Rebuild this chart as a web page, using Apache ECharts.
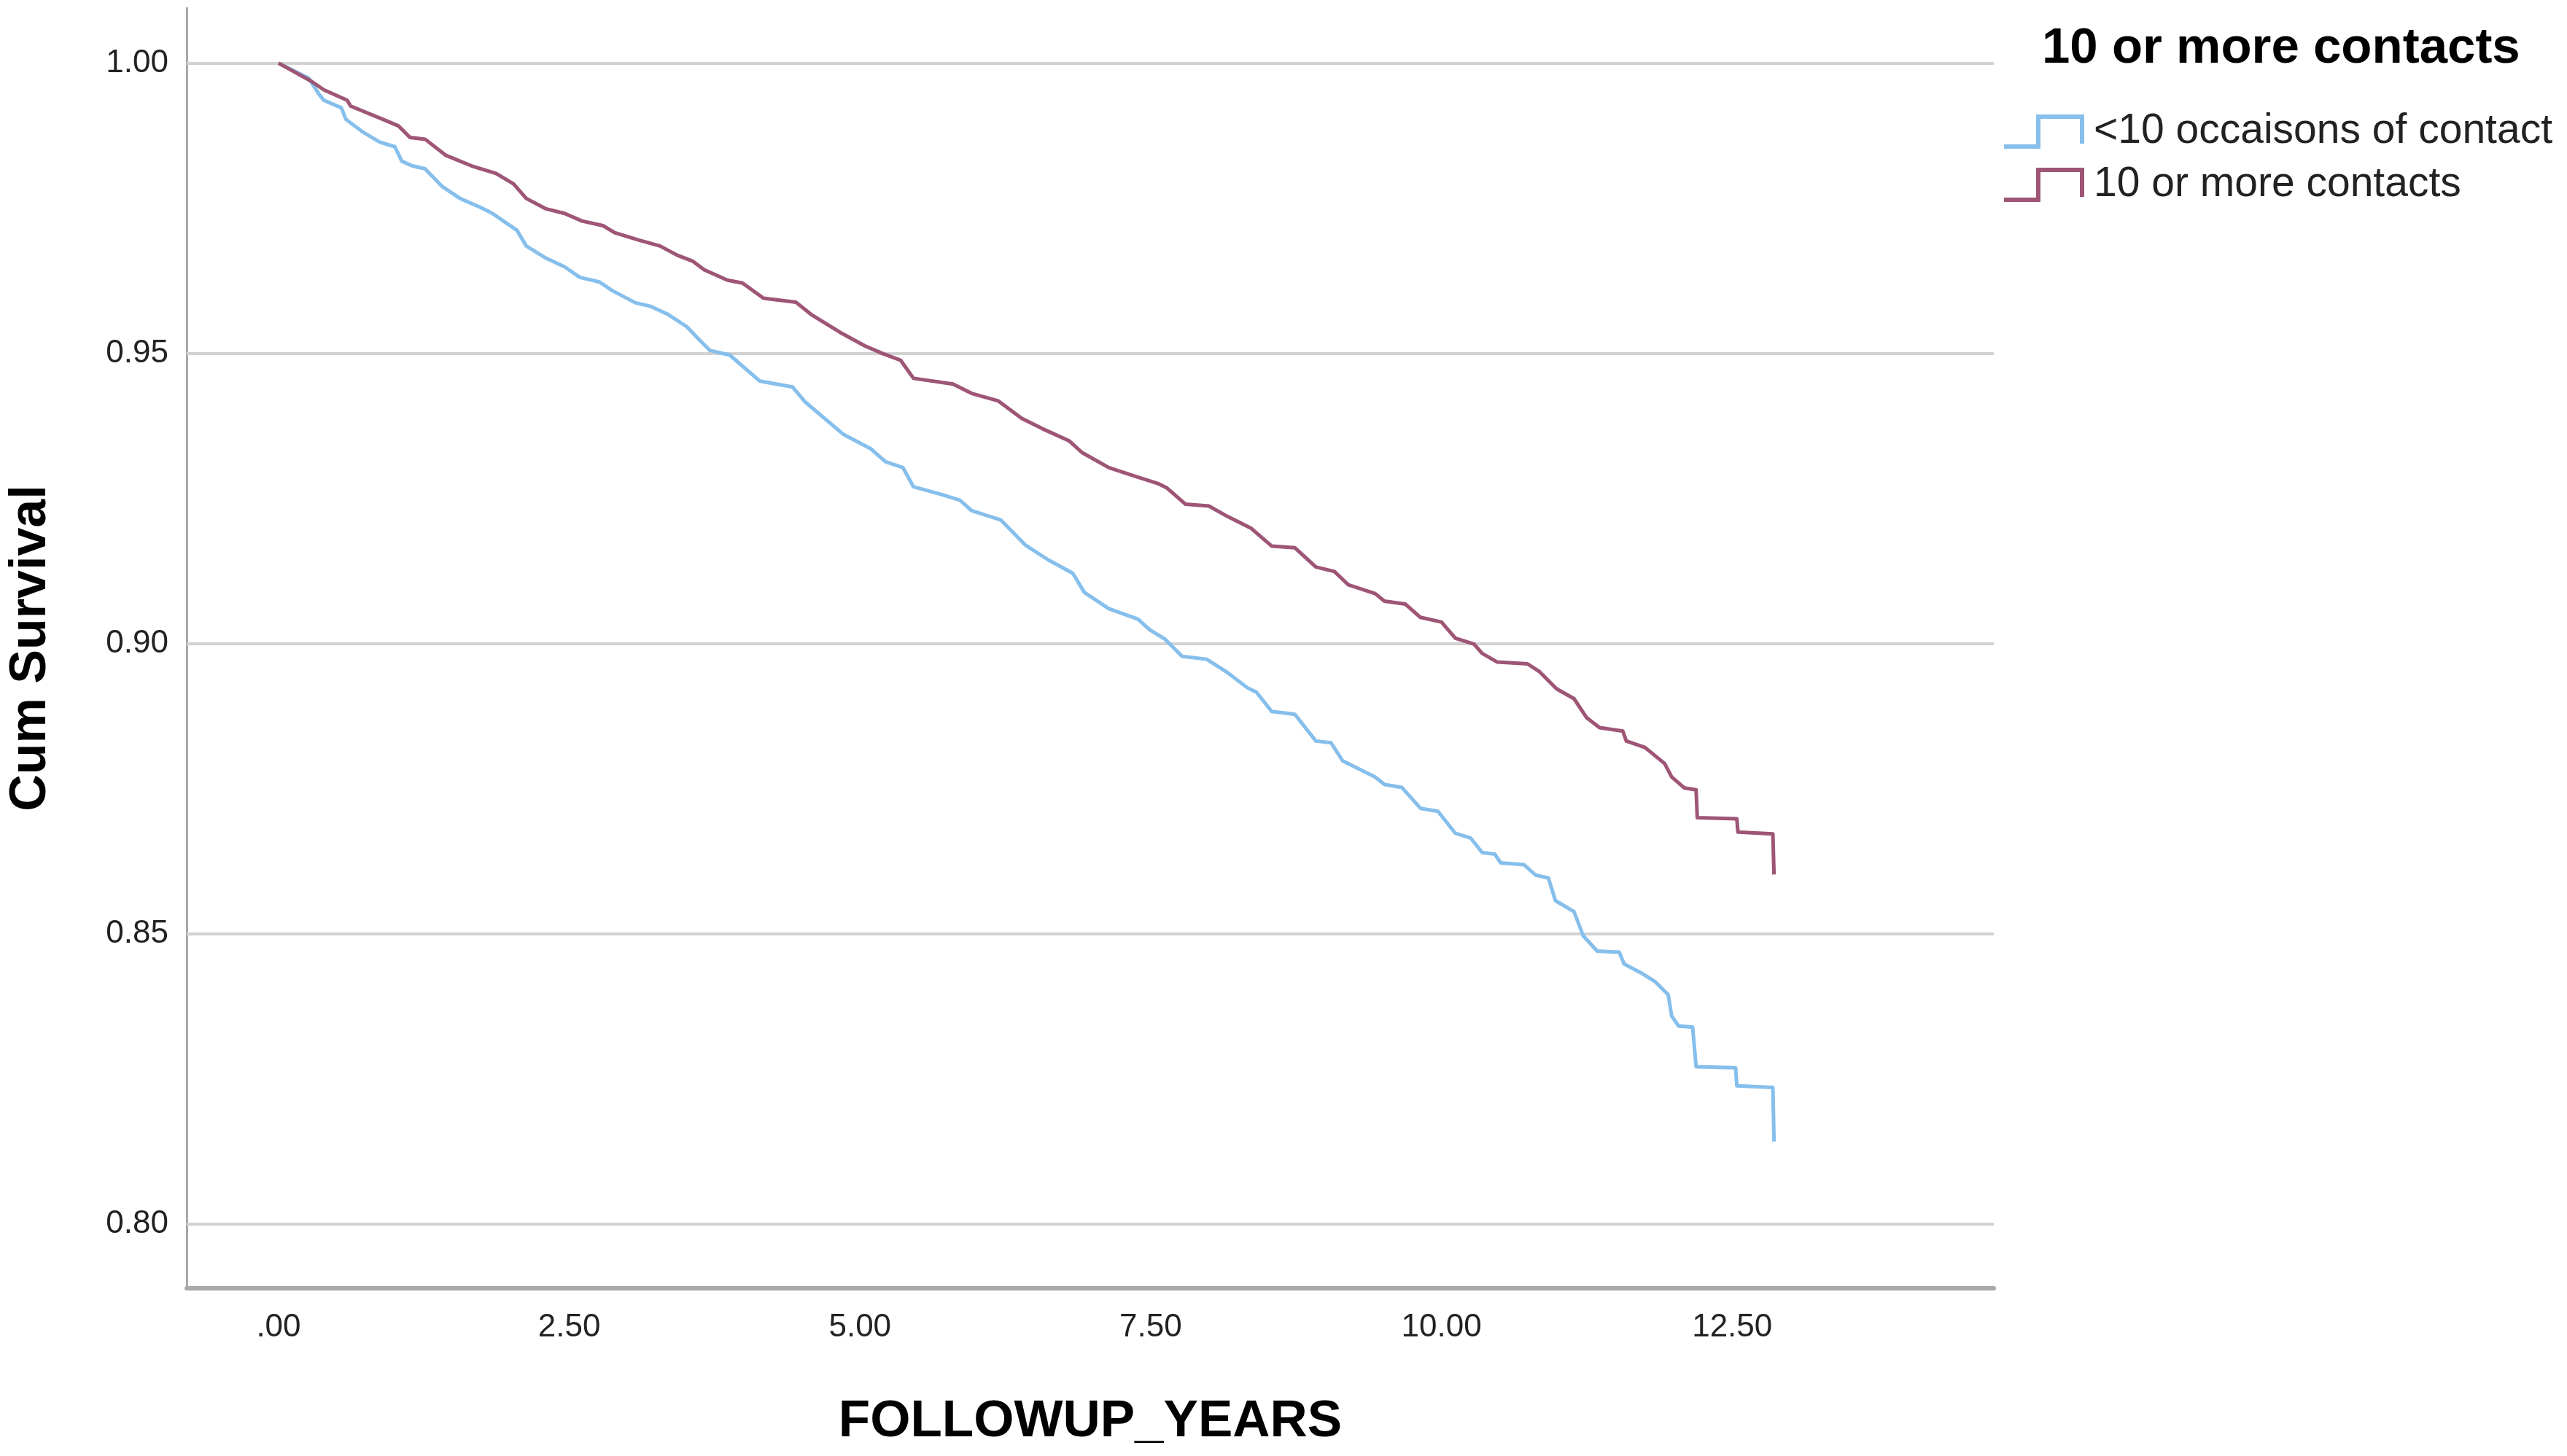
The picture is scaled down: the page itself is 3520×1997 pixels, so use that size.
<!DOCTYPE html>
<html>
<head>
<meta charset="utf-8">
<title>Cum Survival</title>
<script src="https://cdn.jsdelivr.net/npm/echarts@6/dist/echarts.min.js"></script>
<style>
  html, body { margin: 0; padding: 0; background: #fff; }
  #chart { width: 3520px; height: 1997px; }
</style>
</head>
<body>
<div id="chart"></div>
<script>
// series names
var groupNames = ['<10 occaisons of contact', '10 or more contacts'];

// <10 occasions: follow-up years and cumulative survival (corners of the curve)
var lowTimes = [0, 0.26, 0.35, 0.39, 0.54, 0.58, 0.72, 0.87, 1.00, 1.06, 1.15, 1.26, 1.41, 1.56, 1.74, 1.84,
  1.97, 2.05, 2.13, 2.30, 2.46, 2.59, 2.76, 2.87, 3.07, 3.20, 3.35, 3.51, 3.61, 3.71, 3.88, 4.14, 4.42,
  4.53, 4.86, 5.09, 5.22, 5.37, 5.46, 5.70, 5.86, 5.96, 6.21, 6.42, 6.62, 6.83, 6.93, 7.14, 7.39, 7.49,
  7.62, 7.77, 7.98, 8.16, 8.33, 8.41, 8.54, 8.74, 8.92, 9.05, 9.15, 9.43, 9.51, 9.66, 9.82, 9.97, 10.12,
  10.25, 10.35, 10.46, 10.51, 10.71, 10.81, 10.92, 10.98, 11.14, 11.22, 11.34, 11.53, 11.57, 11.73,
  11.84, 11.95, 11.98, 12.04, 12.16, 12.19, 12.53, 12.54, 12.85, 12.86];
var lowSurv = [1.0, 0.9974, 0.9946, 0.9936, 0.9923, 0.9903, 0.9882, 0.9864, 0.9856, 0.9831, 0.9823, 0.9818,
  0.9787, 0.9767, 0.9751, 0.9741, 0.9723, 0.9712, 0.9685, 0.9664, 0.9649, 0.9631, 0.9623, 0.9608, 0.9587,
  0.9581, 0.9567, 0.9546, 0.9525, 0.9505, 0.9497, 0.9452, 0.9442, 0.9416, 0.9360, 0.9336, 0.9313, 0.9303,
  0.9270, 0.9257, 0.9247, 0.9229, 0.9213, 0.9170, 0.9144, 0.9121, 0.9088, 0.9060, 0.9042, 0.9024, 0.9008,
  0.8978, 0.8973, 0.8950, 0.8924, 0.8916, 0.8883, 0.8878, 0.8832, 0.8829, 0.8798, 0.8770, 0.8757, 0.8752,
  0.8716, 0.8711, 0.8673, 0.8665, 0.8640, 0.8637, 0.8622, 0.8619, 0.8601, 0.8596, 0.8557, 0.8538, 0.8496,
  0.8470, 0.8468, 0.8448, 0.8431, 0.8417, 0.8395, 0.8358, 0.8341, 0.8339, 0.8271, 0.8269, 0.8238, 0.8235,
  0.8142];

// 10 or more contacts
var highTimes = [0, 0.28, 0.39, 0.59, 0.62, 0.90, 1.03, 1.13, 1.26, 1.44, 1.66, 1.87, 2.02, 2.13, 2.30, 2.46,
  2.61, 2.79, 2.89, 3.10, 3.28, 3.43, 3.56, 3.66, 3.86, 3.99, 4.17, 4.45, 4.58, 4.83, 5.04, 5.19, 5.35,
  5.46, 5.80, 5.96, 6.19, 6.39, 6.57, 6.80, 6.91, 7.14, 7.34, 7.57, 7.64, 7.80, 8.00, 8.16, 8.36, 8.54,
  8.74, 8.92, 9.08, 9.20, 9.43, 9.51, 9.69, 9.82, 10.00, 10.12, 10.28, 10.35, 10.48, 10.74, 10.84, 10.99,
  11.14, 11.25, 11.36, 11.56, 11.59, 11.75, 11.92, 11.98, 12.09, 12.19, 12.20, 12.54, 12.55, 12.85, 12.86];
var highSurv = [1.0, 0.9969, 0.9954, 0.9936, 0.9926, 0.9903, 0.9892, 0.9872, 0.9869, 0.9841, 0.9823, 0.9810,
  0.9792, 0.9767, 0.9749, 0.9741, 0.9728, 0.9720, 0.9708, 0.9695, 0.9685, 0.9669, 0.9659, 0.9644, 0.9626,
  0.9621, 0.9595, 0.9588, 0.9567, 0.9536, 0.9513, 0.9500, 0.9488, 0.9457, 0.9447, 0.9431, 0.9418, 0.9388,
  0.9370, 0.9349, 0.9329, 0.9303, 0.9290, 0.9275, 0.9268, 0.9240, 0.9237, 0.9219, 0.9199, 0.9168, 0.9165,
  0.9132, 0.9124, 0.9101, 0.9086, 0.9073, 0.9068, 0.9045, 0.9037, 0.9009, 0.8999, 0.8983, 0.8968, 0.8965,
  0.8952, 0.8922, 0.8905, 0.8872, 0.8855, 0.8849, 0.8832, 0.8821, 0.8793, 0.8770, 0.8751, 0.8748, 0.8700,
  0.8698, 0.8675, 0.8672, 0.8602];

// ticks
var xTickValues = [0, 2.5, 5, 7.5, 10, 12.5];
var yTickValues = [0.80, 0.85, 0.90, 0.95, 1.00];

function zip(xs, ys) {
  var out = [];
  for (var i = 0; i < xs.length; i++) out.push([xs[i], ys[i]]);
  return out;
}

var font = 'Liberation Sans, Arial, sans-serif';
var stepIcon = 'path://M0,41 L44,41 L44,0 L110,0 L110,40 L104,40 L104,6 L50,6 L50,47 L0,47 Z';

var chart = echarts.init(document.getElementById('chart'));

var option = {
  backgroundColor: '#ffffff',
  animation: false,
  textStyle: { fontFamily: font },
  title: {
    text: '10 or more contacts',
    left: 2800,
    top: 32,
    padding: 0,
    textStyle: { fontSize: 69, fontWeight: 'bold', color: '#000', fontFamily: font, lineHeight: 70 }
  },
  legend: {
    orient: 'vertical',
    left: 2748,
    top: 152,
    padding: 0,
    itemWidth: 110,
    itemHeight: 47,
    itemGap: 16,
    data: [
      { name: groupNames[0], icon: stepIcon },
      { name: groupNames[1], icon: stepIcon }
    ],
    textStyle: { fontSize: 57, lineHeight: 47, color: '#222', fontFamily: font, padding: [0, 0, 0, 8] }
  },
  grid: { left: 254, right: 786, top: 11, bottom: 230, containLabel: false },
  xAxis: {
    type: 'value',
    min: -0.79,
    max: 14.75,
    name: 'FOLLOWUP_YEARS',
    nameLocation: 'middle',
    nameGap: 148,
    nameTextStyle: { fontSize: 71, fontWeight: 'bold', color: '#000', fontFamily: font },
    axisLine: { show: true, onZero: false, lineStyle: { color: '#a8a8a8', width: 6 } },
    axisTick: { show: false, customValues: xTickValues },
    axisLabel: {
      customValues: xTickValues,
      margin: 32,
      fontSize: 44,
      color: '#222',
      fontFamily: font,
      formatter: function (v) { return v === 0 ? '.00' : v.toFixed(2); }
    },
    splitLine: { show: false }
  },
  yAxis: {
    type: 'value',
    min: 0.7889,
    max: 1.0095,
    name: 'Cum Survival',
    nameLocation: 'middle',
    nameGap: 178,
    nameTextStyle: { fontSize: 70, fontWeight: 'bold', color: '#000', fontFamily: font },
    axisLine: { show: true, onZero: false, lineStyle: { color: '#a8a8a8', width: 3 } },
    axisTick: { show: false, customValues: yTickValues },
    axisLabel: {
      customValues: yTickValues,
      margin: 25,
      fontSize: 44,
      color: '#222',
      fontFamily: font,
      formatter: function (v) { return v.toFixed(2); }
    },
    splitLine: { show: false }
  },
  series: [
    {
      name: groupNames[0],
      type: 'line',
      showSymbol: false,
      data: zip(lowTimes, lowSurv),
      itemStyle: { color: '#86bfec' },
      lineStyle: { color: '#86bfec', width: 5, join: 'round' },
      markLine: {
        silent: true,
        symbol: 'none',
        label: { show: false },
        z: 1,
        lineStyle: { color: '#d2d2d2', width: 4, type: 'solid' },
        data: yTickValues.map(function (v) { return { yAxis: v }; })
      },
      z: 2
    },
    {
      name: groupNames[1],
      type: 'line',
      showSymbol: false,
      data: zip(highTimes, highSurv),
      itemStyle: { color: '#9e5576' },
      lineStyle: { color: '#9e5576', width: 5, join: 'round' },
      z: 3
    }
  ]
};

chart.setOption(option);
</script>
</body>
</html>
